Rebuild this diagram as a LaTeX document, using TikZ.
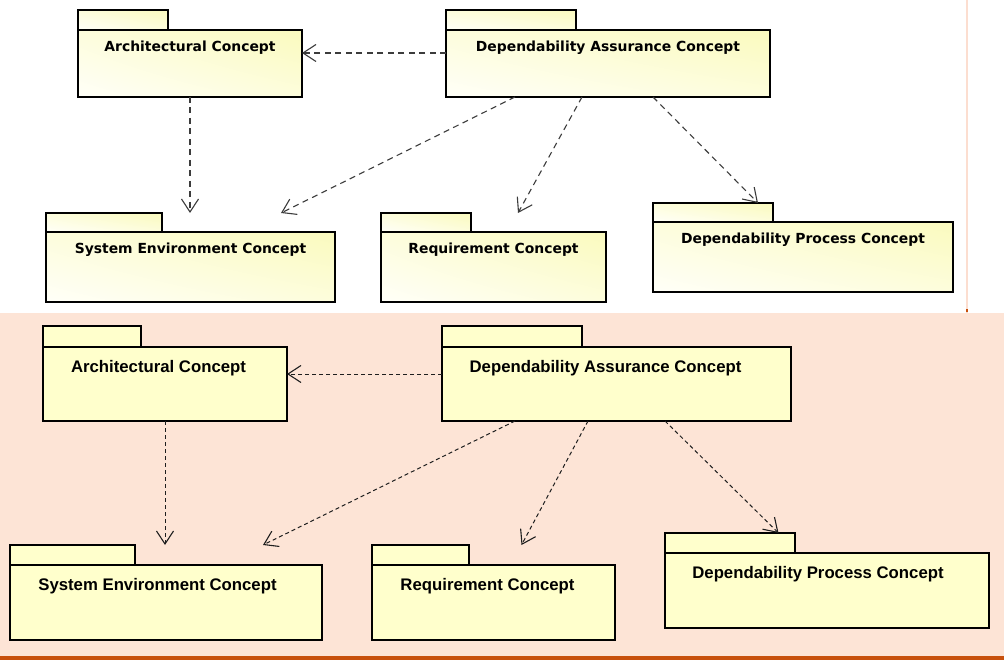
\documentclass[tikz,border=0pt]{standalone}
\usepackage{fontspec}
\newfontfamily\topfont{DejaVu Sans}
\newfontfamily\botfont{Liberation Sans}
\usetikzlibrary{arrows.meta,shadings,calc}
\definecolor{bgpink}{RGB}{253,228,214}
\definecolor{orangeline}{RGB}{200,80,12}
\definecolor{pinkline}{RGB}{252,222,208}
\definecolor{boxyellow}{RGB}{255,255,204}
\definecolor{gradLL}{RGB}{255,255,248}
\definecolor{gradUR}{RGB}{250,250,190}
\definecolor{gradMid}{RGB}{253,253,220}
\definecolor{arrowgrayT}{RGB}{60,60,60}
\definecolor{arrowgrayB}{RGB}{30,30,30}
\begin{document}
\begin{tikzpicture}[x=1pt,y=-1pt,
  pkgT/.style={draw=black, line width=2.6pt, inner sep=0pt, outer sep=0pt, anchor=north west,
    shade, lower left=gradLL, upper right=gradUR, upper left=gradMid, lower right=gradMid},
  pkgB/.style={draw=black, line width=2.6pt, inner sep=0pt, outer sep=0pt, anchor=north west,
    fill=boxyellow},
  txtT/.style={anchor=base, inner sep=0pt, font=\topfont\bfseries\fontsize{13.9}{16}\selectfont},
  txtB/.style={anchor=base, inner sep=0pt, font=\botfont\bfseries\fontsize{16.75}{19}\selectfont},
  depT/.style={draw=arrowgrayT, line width=1.1pt, dash pattern=on 6pt off 4.5pt,
    -{Straight Barb[length=13pt,width=17pt,line width=1.1pt]}},
  depB/.style={draw=arrowgrayB, line width=1pt, dash pattern=on 4pt off 3pt,
    -{Straight Barb[length=13pt,width=17pt,line width=1.1pt]}}
]
\useasboundingbox (0,0) rectangle (1004,660);
% backgrounds
\fill[white] (0,0) rectangle (1004,313.5);
\fill[bgpink] (0,313.5) rectangle (1004,660);
\fill[orangeline] (0,655.5) rectangle (1004,660);
\draw[pinkline, line width=1.6pt] (967,0) -- (967,313.5);
\fill[orangeline] (966,309.5) rectangle (968,312);

% ---------- top diagram ----------
\node[pkgT, minimum width=90, minimum height=20] (archTtab) at (78,10) {};
\node[pkgT, minimum width=224, minimum height=67] (archT) at (78,30) {};
\node[txtT] (archTlbl) at (190,52) {Architectural Concept};

\node[pkgT, minimum width=130, minimum height=20] (daTtab) at (446,10) {};
\node[pkgT, minimum width=324, minimum height=67] (daT) at (446,30) {};
\node[txtT] (daTlbl) at (608,52) {Dependability Assurance Concept};

\node[pkgT, minimum width=116, minimum height=19] (seTtab) at (46,213) {};
\node[pkgT, minimum width=289, minimum height=70] (seT) at (46,232) {};
\node[txtT] (seTlbl) at (190.5,254) {System Environment Concept};

\node[pkgT, minimum width=90, minimum height=19] (reqTtab) at (381,213) {};
\node[pkgT, minimum width=225, minimum height=70] (reqT) at (381,232) {};
\node[txtT] (reqTlbl) at (493.5,254) {Requirement Concept};

\node[pkgT, minimum width=120, minimum height=19] (dpTtab) at (653,203) {};
\node[pkgT, minimum width=300, minimum height=70] (dpT) at (653,222) {};
\node[txtT] (dpTlbl) at (803,244) {Dependability Process Concept};

\draw[depT] ($(daT.north west)+(0,23)$) -- ($(archT.north east)+(0,23)$);
\draw[depT] ($(archT.south west)+(112,0)$) -- ($(seTtab.north west)+(144,0)$);
\draw[depT] ($(daT.south west)+(69,0)$) -- ($(seTtab.north west)+(235,0)$);
\draw[depT] ($(daT.south west)+(136,0)$) -- ($(reqTtab.north west)+(137,0)$);
\draw[depT] ($(daT.south west)+(207,0)$) -- ($(dpTtab.north west)+(105,0)$);

% ---------- bottom diagram ----------
\node[pkgB, minimum width=98, minimum height=21] (archBtab) at (43,326) {};
\node[pkgB, minimum width=244, minimum height=74] (archB) at (43,347) {};
\node[txtB] (archBlbl) at (158.5,372) {Architectural Concept};

\node[pkgB, minimum width=140, minimum height=21] (daBtab) at (442,326) {};
\node[pkgB, minimum width=349, minimum height=74] (daB) at (442,347) {};
\node[txtB] (daBlbl) at (605.5,372) {Dependability Assurance Concept};

\node[pkgB, minimum width=125, minimum height=20] (seBtab) at (10,545) {};
\node[pkgB, minimum width=312, minimum height=75] (seB) at (10,565) {};
\node[txtB] (seBlbl) at (157.5,590) {System Environment Concept};

\node[pkgB, minimum width=97, minimum height=20] (reqBtab) at (372,545) {};
\node[pkgB, minimum width=243, minimum height=75] (reqB) at (372,565) {};
\node[txtB] (reqBlbl) at (487.5,590) {Requirement Concept};

\node[pkgB, minimum width=130, minimum height=20] (dpBtab) at (665,533) {};
\node[pkgB, minimum width=324, minimum height=75] (dpB) at (665,553) {};
\node[txtB] (dpBlbl) at (818,578) {Dependability Process Concept};

\draw[depB] ($(daB.north west)+(0,27)$) -- ($(archB.north east)+(0,27)$);
\draw[depB] ($(archB.south west)+(122,0)$) -- ($(seBtab.north west)+(155,0)$);
\draw[depB] ($(daB.south west)+(73,0)$) -- ($(seBtab.north west)+(253,0)$);
\draw[depB] ($(daB.south west)+(146,0)$) -- ($(reqBtab.north west)+(149.5,0)$);
\draw[depB] ($(daB.south west)+(223,0)$) -- ($(dpBtab.north west)+(113.5,0)$);
\end{tikzpicture}
\end{document}
